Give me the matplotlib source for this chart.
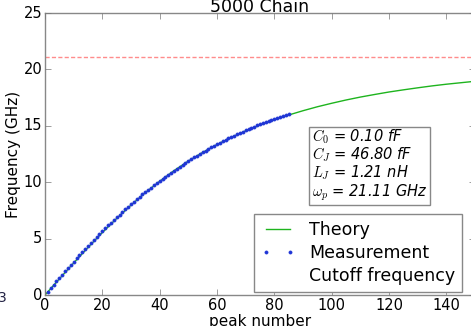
import matplotlib
matplotlib.use("Agg")
from matplotlib import pyplot as plt
from matplotlib.lines import Line2D

plt.style.use("classic")

# theory curve, read every 5 peaks
theory_k = [0, 5, 10, 15, 20, 25, 30, 35, 40, 45, 50, 55, 60, 65, 70, 75,
            80, 85, 90, 95, 100, 105, 110, 115, 120, 125, 130, 135, 140, 145, 150]
theory_f = [0.0, 1.43, 2.84, 4.22, 5.54, 6.79, 7.97, 9.07, 10.08, 11.02, 11.87,
            12.64, 13.34, 13.98, 14.55, 15.07, 15.54, 15.96, 16.34, 16.69, 17.00,
            17.29, 17.55, 17.78, 18.00, 18.19, 18.37, 18.54, 18.69, 18.82, 18.95]

# measured peaks 1..85
meas_k = list(range(1, 86))
meas_f = [0.30, 0.60, 0.90, 1.20, 1.50,
          1.81, 2.10, 2.38, 2.66, 2.95,
          3.27, 3.54, 3.82, 4.09, 4.37,
          4.63, 4.90, 5.16, 5.42, 5.69,
          5.92, 6.17, 6.42, 6.67, 6.92,
          7.13, 7.36, 7.60, 7.84, 8.07,
          8.26, 8.48, 8.70, 8.92, 9.14,
          9.31, 9.52, 9.72, 9.92, 10.12,
          10.30, 10.49, 10.67, 10.86, 11.04,
          11.20, 11.37, 11.55, 11.72, 11.89,
          12.04, 12.20, 12.35, 12.50, 12.66,
          12.81, 12.95, 13.09, 13.23, 13.37,
          13.51, 13.64, 13.76, 13.89, 14.02,
          14.14, 14.25, 14.37, 14.49, 14.60,
          14.71, 14.82, 14.92, 15.03, 15.13,
          15.24, 15.34, 15.43, 15.52, 15.62,
          15.72, 15.81, 15.89, 15.98, 16.06]

cutoff = 21.11
params = ["$C_0$ = 0.10 fF", "$C_J$ = 46.80 fF", "$L_J$ = 1.21 nH",
          "$\\omega_p$ = 21.11 GHz"]

fig = plt.figure(figsize=(4.71, 3.26), dpi=100, facecolor="white")
ax = fig.add_axes([0.0955, 0.095, 0.913, 0.865])

ax.plot(theory_k, theory_f, color="#1eb41e", lw=1.0, label="Theory")
ax.plot(meas_k, meas_f, ".", color="#1f35d6", ms=4.5, label="Measurement")
ax.axhline(cutoff, color="red", ls="--", dashes=(3, 1.6), lw=1.0, alpha=0.45)

ax.set_xlim(0, 150)
ax.set_ylim(0, 25)
ax.set_xticks([0, 20, 40, 60, 80, 100, 120, 140])
ax.set_yticks([0, 5, 10, 15, 20, 25])
ax.tick_params(labelsize=10.5, direction="in", top=True, right=True,
               color="#777777", pad=2)
for s in ax.spines.values():
    s.set_color("#888888")

ax.set_title("5000 Chain", fontsize=12.5, pad=1)
ax.set_xlabel("peak number", fontsize=11, labelpad=1)
ax.set_ylabel("Frequency (GHz)", fontsize=11, labelpad=2)

ax.text(0.62, 0.594, "\n".join(params), transform=ax.transAxes,
        fontsize=10.5, style="italic", va="top", ha="left", linespacing=0.98,
        bbox=dict(facecolor="white", edgecolor="#888888", pad=2))

handles = [Line2D([], [], color="#1eb41e", lw=1.0),
           Line2D([], [], ls="", marker=".", color="#1f35d6", ms=4.5),
           Line2D([], [], ls="")]
leg = ax.legend(handles, ["Theory", "Measurement", "Cutoff frequency"],
                loc="lower right", bbox_to_anchor=(0.983, -0.008), fontsize=12.5,
                numpoints=2, frameon=True, fancybox=False, borderaxespad=0.3,
                labelspacing=0.3, handlelength=2.0, handletextpad=0.8)
leg.get_frame().set_edgecolor("#888888")

fig.text(-0.004, 1 - 302 / 326, "3", fontsize=10, color="#222244")

plt.savefig("out.png", dpi=100)
